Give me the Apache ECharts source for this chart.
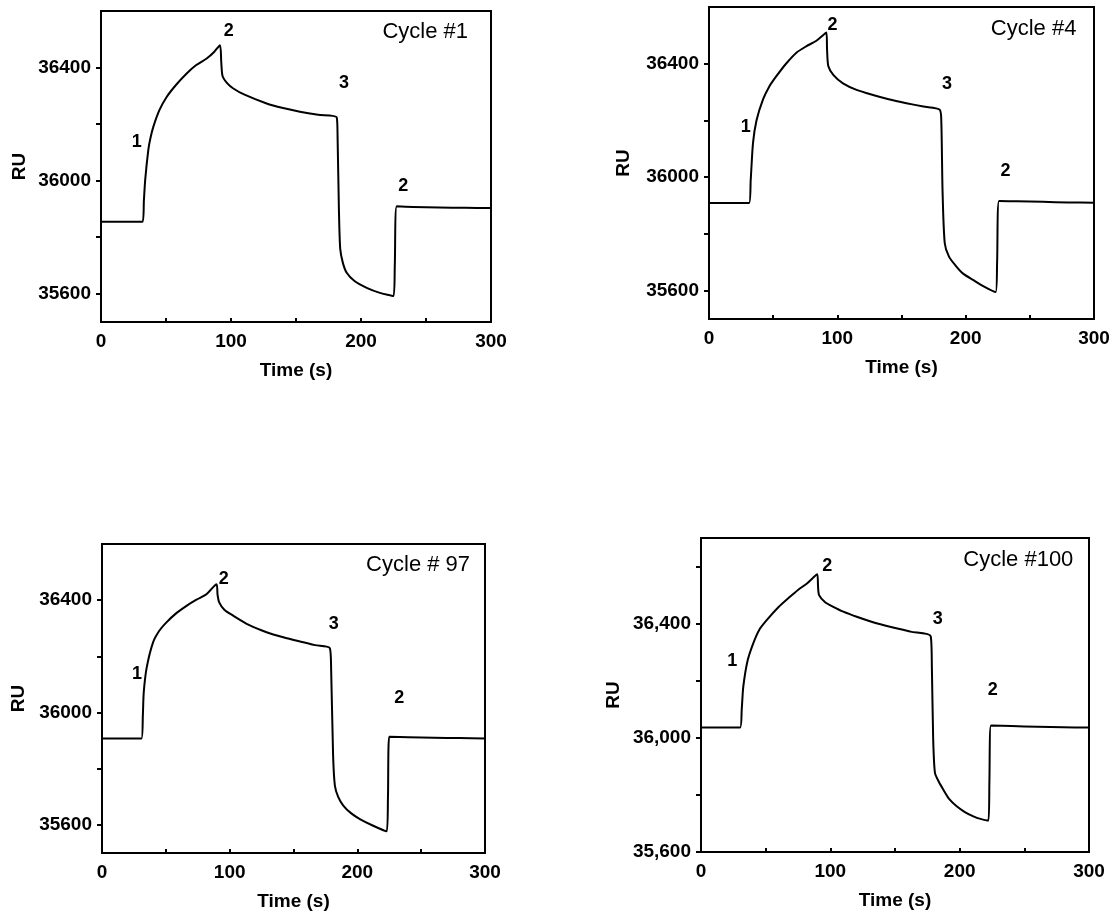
<!DOCTYPE html>
<html>
<head>
<meta charset="utf-8">
<script src="https://cdn.jsdelivr.net/npm/echarts@6/dist/echarts.min.js"></script>
<style>html,body{margin:0;padding:0;background:#fff}#c{width:1117px;height:918px}</style>
</head>
<body>
<div id="c"></div>
<script>
// ---- Data (time s, RU) ----
var cycle1 = [[0,35855],[32,35855],[33,35930],[34,36003],[36.4,36109],[38,36150],[40.3,36191],[45,36250],[50.5,36296],[58,36340],[65.9,36379],[73,36408],[81.3,36432],[87,36455],[91.5,36479],[92.5,36420],[93.5,36370],[97,36345],[101.8,36326],[110,36305],[127.4,36273],[140,36257],[153,36244],[167,36233],[181.3,36224],[182,36150],[183,35900],[184,35760],[186,35710],[189,35674],[195,35645],[204.4,35621],[214,35604],[225,35592],[226,35700],[227.5,35909],[240,35907],[260,35905],[280,35904],[300,35903]];
var cycle4 = [[0,35909],[31.2,35909],[32.5,35990],[34.3,36121],[37,36200],[42.1,36274],[47,36320],[52.5,36356],[60,36400],[68.1,36439],[76,36462],[83.7,36481],[91.5,36510],[92,36450],[93,36391],[97,36360],[104.4,36331],[115,36308],[127.8,36290],[140,36275],[153.8,36261],[167,36249],[179.8,36238],[181,36200],[182,35950],[183.7,35767],[187,35720],[192.8,35685],[198,35660],[205.7,35638],[214,35615],[223.4,35595],[224.5,35700],[226,35916],[240,35915],[260,35913],[280,35911],[300,35910]];
var cycle97 = [[0,35908],[30.9,35908],[32,35990],[32.7,36072],[35,36160],[40,36250],[45,36292],[50.5,36321],[58,36353],[66.2,36380],[74,36402],[81.8,36421],[89.7,36457],[90.5,36420],[91.8,36392],[96,36365],[102.7,36345],[115,36312],[128.9,36286],[142,36268],[155,36253],[167,36240],[178.5,36229],[179.5,36150],[181,35850],[182.4,35740],[185,35700],[189,35669],[195,35642],[202,35621],[212,35598],[223,35577],[224,35700],[225,35914],[240,35912],[260,35910],[280,35909],[300,35908]];
var cycle100 = [[0,36036],[30.2,36036],[31.5,36100],[32.7,36179],[36,36270],[40.4,36331],[45,36378],[50.8,36412],[60,36458],[68.8,36494],[75,36518],[81.7,36540],[89.9,36573],[90.5,36530],[91.3,36500],[96,36475],[102.3,36459],[110,36442],[120.4,36424],[133,36405],[146.1,36389],[162,36372],[177.6,36356],[178.5,36250],[179.5,36000],[180.9,35877],[184,35845],[187.4,35818],[192,35785],[197.7,35760],[204,35740],[210.6,35725],[216,35716],[222.2,35710],[223,35850],[224.2,36043],[240,36041],[260,36039],[280,36037],[300,36036]];

// annotation labels: [time, RU, text]
var notes1 = [[27.5,36138,'1'],[98.2,36529,'2'],[186.9,36346,'3'],[232.5,35982,'2']];
var notes4 = [[28.6,36176,'1'],[96.2,36535,'2'],[185.5,36330,'3'],[231,36021,'2']];
var notes97 = [[27.4,36137,'1'],[95.4,36475,'2'],[181.6,36315,'3'],[232.8,36050,'2']];
var notes100 = [[24.2,36269,'1'],[97.7,36602,'2'],[183,36416,'3'],[225.5,36168,'2']];
// panel titles: [time of right edge, RU, text]
var titles = [[282.3,36525,'Cycle #1'],[286.3,36524,'Cycle #4'],[288.3,36524,'Cycle # 97'],[287.9,36624,'Cycle #100']];

// axis ticks
var xTicks = [0,50,100,150,200,250,300];
var xLabels = [0,100,200,300];
var yTicksA = [35600,35800,36000,36200,36400];
var yLabelsA = [35600,36000,36400];
var yTicksB = [35600,35800,36000,36200,36400,36600];
var yLabelsB = [35600,36000,36400];
var yRangeA = [35500,36600];
var yRangeB = [35600,36700];

var FONT = 'Liberation Sans, Arial, sans-serif';
var grids = [
  {left:101, top:11, width:390, height:311},
  {left:709, top:7, width:385, height:312},
  {left:102, top:544, width:383, height:309},
  {left:701, top:538, width:388, height:314}
];
var lines = [cycle1, cycle4, cycle97, cycle100];
var notes = [notes1, notes4, notes97, notes100];
var yGaps = [72, 76, 74, 78];

var option = {
  animation: false,
  backgroundColor: '#fff',
  grid: grids.map(function(g){ return Object.assign({show:true, borderColor:'#000', borderWidth:2, backgroundColor:'transparent'}, g); }),
  xAxis: grids.map(function(g,i){ return {
    type:'value', gridIndex:i, min:0, max:300,
    name:'Time (s)', nameLocation:'middle', nameGap:39,
    nameTextStyle:{fontFamily:FONT, fontWeight:'bold', fontSize:19, color:'#000'},
    axisLine:{show:true, onZero:false, lineStyle:{color:'#000', width:2}},
    axisTick:{show:true, inside:true, length:4, customValues:xTicks, lineStyle:{color:'#000', width:2}},
    axisLabel:{customValues:xLabels, margin:10, fontFamily:FONT, fontWeight:'bold', fontSize:19, color:'#000'},
    splitLine:{show:false}
  };}),
  yAxis: grids.map(function(g,i){ var b = (i===3); return {
    type:'value', gridIndex:i, min:(b?yRangeB:yRangeA)[0], max:(b?yRangeB:yRangeA)[1],
    name:'RU', nameLocation:'middle', nameGap:yGaps[i],
    nameTextStyle:{fontFamily:FONT, fontWeight:'bold', fontSize:19, color:'#000'},
    axisLine:{show:true, onZero:false, lineStyle:{color:'#000', width:2}},
    axisTick:{show:true, inside:false, length:5, customValues:(b?yTicksB:yTicksA), lineStyle:{color:'#000', width:2}},
    axisLabel:{customValues:(b?yLabelsB:yLabelsA), margin:10, fontFamily:FONT, fontWeight:'bold', fontSize:19, color:'#000',
      formatter: b ? function(v){ return Number(v).toLocaleString('en-US'); } : function(v){ return String(v); }},
    splitLine:{show:false}
  };}),
  series: []
};

lines.forEach(function(d,i){
  option.series.push({
    type:'line', xAxisIndex:i, yAxisIndex:i, data:d, showSymbol:false, symbol:'none',
    lineStyle:{color:'#000', width:2, join:'round'}, smooth:0.25
  });
  option.series.push({
    type:'scatter', xAxisIndex:i, yAxisIndex:i, symbolSize:0, silent:true,
    itemStyle:{opacity:1, color:'#000'},
    data: notes[i].map(function(n){ return {value:[n[0],n[1]], name:n[2]}; }).concat([
      {value:[titles[i][0], titles[i][1]], name:titles[i][2],
       label:{position:'left', distance:0, fontWeight:'normal', fontSize:22, color:'#000'}}
    ]),
    label:{show:true, position:'inside', formatter:function(p){return p.name;},
      fontFamily:FONT, fontWeight:'bold', fontSize:18, color:'#000', opacity:1}
  });
});

var chart = echarts.init(document.getElementById('c'), null, {renderer:'canvas'});
chart.setOption(option);
</script>
</body>
</html>
